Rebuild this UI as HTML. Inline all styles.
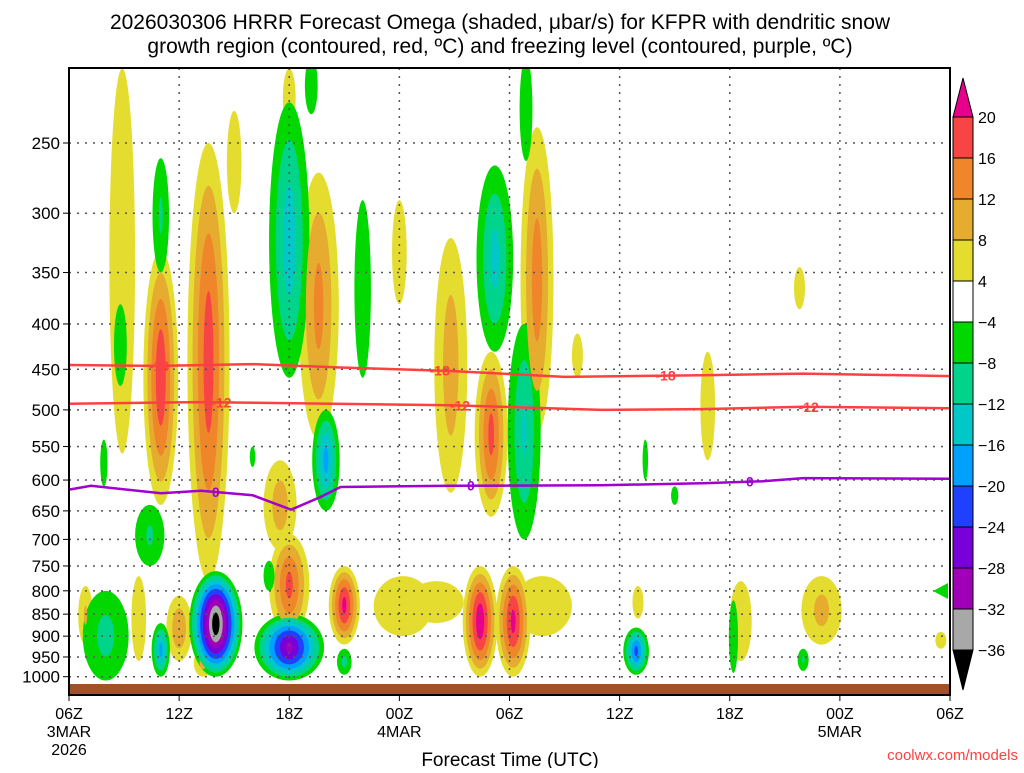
<!DOCTYPE html>
<html><head><meta charset="utf-8"><style>
body{margin:0;background:#fff;width:1024px;height:768px;overflow:hidden}
svg text{font-family:"Liberation Sans",sans-serif}
</style></head><body>
<svg id="chart" width="1024" height="768" xmlns="http://www.w3.org/2000/svg">
<text x="500" y="29" font-size="21" text-anchor="middle" fill="#000">2026030306 HRRR Forecast Omega (shaded, μbar/s) for KFPR with dendritic snow</text>
<text x="500" y="53" font-size="21" text-anchor="middle" fill="#000">growth region (contoured, red, ºC) and freezing level (contoured, purple, ºC)</text>
<defs><clipPath id="plotclip"><rect x="69" y="68" width="881" height="627"/></clipPath></defs>
<g id="shading" clip-path="url(#plotclip)"></g>
<g id="grid"></g>
<g id="lines" clip-path="url(#plotclip)"></g>
<rect x="69" y="684" width="881" height="11" fill="#a0522d"/>
<rect x="69" y="68" width="881" height="627" fill="none" stroke="#000" stroke-width="2"/>
<polygon points="933,591 948,583 948,599" fill="#00d800"/>
<g id="axes"></g>
<g id="cbar"></g>
<text x="510" y="766" font-size="19" text-anchor="middle">Forecast Time (UTC)</text>
<text x="1018" y="760" font-size="15" text-anchor="end" fill="#ff4040">coolwx.com/models</text>
</svg>
<script>
// pressure axis ticks
const pTicks=[250,300,350,400,450,500,550,600,650,700,750,800,850,900,950,1000];
const xTickHours=[0,6,12,18,24,30,36,42,48];
const xTickLabels=[["06Z","3MAR","2026"],["12Z"],["18Z"],["00Z","4MAR"],["06Z"],["12Z"],["18Z"],["00Z","5MAR"],["06Z"]];
// omega blobs: hour, top pressure, bottom pressure, half width (h), peak
const blobHour=[2.9,5.0,7.6,13.6,11.5,12.0,15.0,18.2,18.0,20.8,23.0,25.5,22.4,24.2,25.8,34.8,39.8,41.0,36.6,0.9,6.0,3.8,7.3,27.7,9.0,31.0,47.5,12.0,20.0,
 12.0,13.2,5.0,2.8,16.0,23.2,24.8,24.9,14.0,4.4,8.0,12.0,2.0,5.0,15.0,30.9,36.2,40.0,10.9,1.9,31.4,33.0,10.0];
const blobPTop=[206,330,250,270,570,690,750,770,290,320,430,240,750,750,770,430,345,770,780,790,810,770,930,410,230,790,890,206,780,
 225,200,260,380,290,265,400,200,500,640,760,850,800,870,930,880,820,930,740,540,540,610,550];
const blobPBot=[560,640,780,540,720,900,920,900,380,620,660,530,1000,1000,900,570,385,920,960,920,960,960,1000,460,300,860,930,240,870,
 460,232,350,470,460,430,700,262,650,750,1000,1010,1010,1000,995,995,990,985,800,610,600,640,580];
const blobHalfW=[0.7,0.95,1.15,1.1,0.9,1.1,0.85,1.6,0.4,0.9,0.9,0.9,0.95,0.95,1.6,0.4,0.3,1.1,0.6,0.4,0.7,0.4,0.5,0.3,0.4,0.3,0.3,0.35,1.5,
 1.1,0.35,0.45,0.35,0.45,1.0,0.9,0.35,0.75,0.8,1.45,1.9,1.25,0.5,0.4,0.7,0.25,0.3,0.3,0.2,0.15,0.2,0.15];
const blobPeak=[6,20,19,14,11,18,22,6,5,11,18,15,24,22,6,6,5,10,7,9,12,6,10,5,5,5,5,5,6,
 -15,-6,-9,-6,-6,-14,-13,-6,-18,-9,-40,-30,-10,-18,-10,-22,-6,-9,-6,-6,-6,-6,-6];
// contour lines
const frzHours=[0,1.2,5,7.2,10,12.1,13.7,14.8,20.8,29,34.5,37.8,40,48];
const frzP=[615,609,621,617,624,648,627,611,609,608,605,602,597,598];
const t18Hours=[0,5,10,15,20.8,27,34.5,40,48];
const t18P=[445,446,444,448,452,459,457,455,458];
const t12Hours=[0,7,20.8,29,34.5,40,48];
const t12P=[492,490,494,500,499,496,498];
const posLevels=[4,8,12,16,20];
const posColors=["#e5dc30","#e5ac30","#f0862a","#f74545","#e8008c"];
const negLevels=[4,8,12,16,20,24,28,32,36];
const negColors=["#00d800","#00d48a","#00c8c8","#00a0ff","#2040ff","#7800d8","#a000b8","#a8a8a8","#000000"];
const cbLabels=["20","16","12","8","4","−4","−8","−12","−16","−20","−24","−28","−32","−36"];
const cbColors=["#f74545","#f0862a","#e5ac30","#e5dc30","#ffffff","#00d800","#00d48a","#00c8c8","#00a0ff","#2040ff","#7800d8","#a000b8","#a8a8a8"];

const NS="http://www.w3.org/2000/svg";
const X0=69,X1=950;
const xs=h=>X0+h*(X1-X0)/48;
const ys=p=>143+385*(Math.log(p)-Math.log(250));
function mk(tag,attrs,parent){const e=document.createElementNS(NS,tag);for(const k in attrs)e.setAttribute(k,attrs[k]);parent.appendChild(e);return e;}

const shading=document.getElementById('shading');
for(let li=0;li<9;li++){
  for(let i=0;i<blobHour.length;i++){
    const pk=blobPeak[i],a=Math.abs(pk);
    let L,col;
    if(pk>0){if(li>=posLevels.length)continue;L=posLevels[li];col=posColors[li];}
    else{L=negLevels[li];col=negColors[li];}
    if(a<=L)continue;
    const f=(a-L)/(a-4);
    const sx=Math.pow(f,0.9),sy=Math.pow(f,0.7);
    const y1=ys(blobPTop[i]),y2=ys(blobPBot[i]);
    const e=mk('ellipse',{cx:xs(blobHour[i]),cy:(y1+y2)/2,rx:blobHalfW[i]*18.35*sx,ry:(y2-y1)/2*sy,fill:col},shading);
    
    
  }
}
const grid=document.getElementById('grid'),axes=document.getElementById('axes');
pTicks.forEach(p=>{
  const y=ys(p);
  const l=mk('line',{x1:X0,x2:X1,y1:y,y2:y,stroke:'#555','stroke-dasharray':'2,6','stroke-width':1.5},grid);
  
  
  mk('line',{x1:X0-6,x2:X0,y1:y,y2:y,stroke:'#000'},axes);
  const t=mk('text',{x:60,y:y+6,'font-size':17,'text-anchor':'end'},axes);t.textContent=p;
  
  
});
xTickHours.forEach((h,i)=>{
  const x=xs(h);
  if(i>0&&i<8){const l=mk('line',{x1:x,x2:x,y1:68,y2:684,stroke:'#555','stroke-dasharray':'2,6','stroke-width':1.5},grid);
  
  }
  mk('line',{x1:x,x2:x,y1:695,y2:701,stroke:'#000'},axes);
  xTickLabels[i].forEach((s,j)=>{const t=mk('text',{x:x,y:719+j*18,'font-size':16,'text-anchor':'middle'},axes);t.textContent=s;
  
  });
});
const lines=document.getElementById('lines');
function drawLine(hs,ps,col,name,labels,txt){
  const d=hs.map((h,i)=>(i?'L':'M')+xs(h).toFixed(1)+','+ys(ps[i]).toFixed(1)).join(' ');
  const pth=mk('path',{d:d,fill:'none',stroke:col,'stroke-width':2.5},lines);
  
  
  labels.forEach(h=>{
    let k=0;while(k<hs.length-2&&hs[k+1]<h)k++;
    const f=(h-hs[k])/(hs[k+1]-hs[k]);const y=ys(ps[k]+f*(ps[k+1]-ps[k]));
    const t=mk('text',{x:xs(h),y:y+5,'font-size':14,'font-weight':'bold','text-anchor':'middle',fill:col},lines);t.textContent=txt;
    
    
  });
}
drawLine(t18Hours,t18P,'#ff4040','minus18-contour',[4.9,20.2,32.5],'-18');
drawLine(t12Hours,t12P,'#ff4040','minus12-contour',[8.3,21.3,40.3],'-12');
drawLine(frzHours,frzP,'#a000d0','freezing-level-contour',[8.0,21.9,37.1],'0');

const cb=document.getElementById('cbar');
const cbTop=117,cbH=41;
mk('polygon',{points:`953,${cbTop} 973,${cbTop} 963,78`,fill:'#e8008c',stroke:'#000'},cb);
mk('polygon',{points:`953,${cbTop+13*cbH} 973,${cbTop+13*cbH} 963,690`,fill:'#000',stroke:'#000'},cb);
cbColors.forEach((c,i)=>{const r=mk('rect',{x:953,y:cbTop+i*cbH,width:20,height:cbH,fill:c,stroke:'#000'},cb);
  
  });
cbLabels.forEach((s,i)=>{const t=mk('text',{x:978,y:cbTop+i*cbH+6,'font-size':16},cb);t.textContent=s;
  
  });
</script>
</body></html>
